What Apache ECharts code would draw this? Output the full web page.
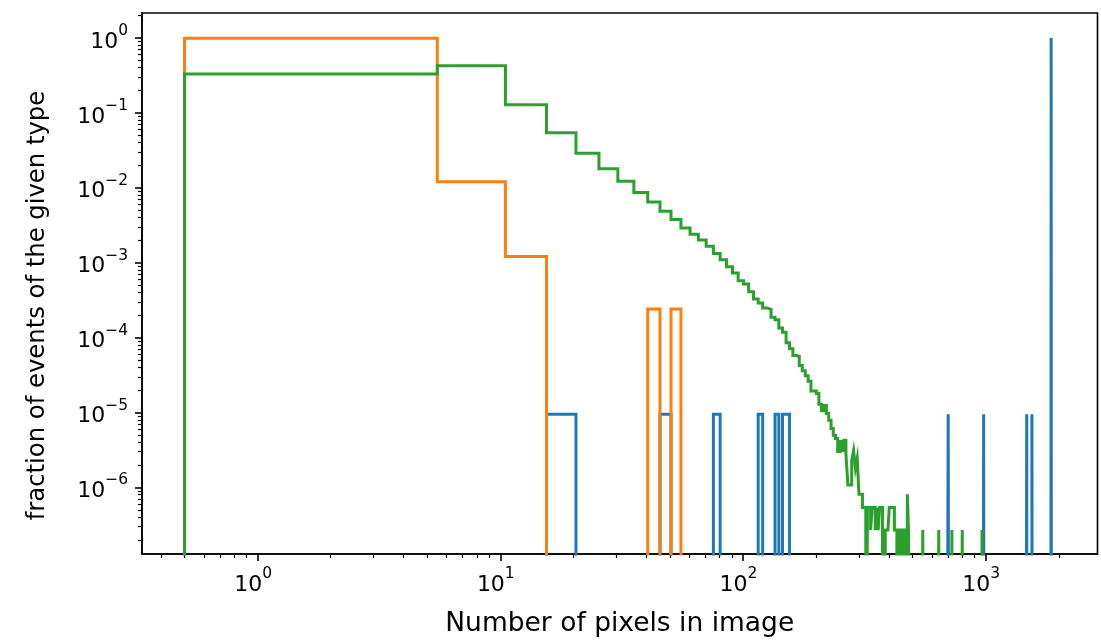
<!DOCTYPE html>
<html>
<head>
<meta charset="utf-8">
<script src="https://cdn.jsdelivr.net/npm/echarts@6/dist/echarts.min.js"></script>
<style>
html,body{margin:0;padding:0;background:#fff;}
#chart{width:1101px;height:643px;}
</style>
</head>
<body>
<div id="chart"></div>
<script>
// ---- data ----
const binStart = 0.5;
const binWidth = 5;
const binCount = 380;

const xTickValues = [1, 10, 100, 1000];
const yTickValues = [1, 1e-1, 1e-2, 1e-3, 1e-4, 1e-5, 1e-6];

const xTitle = 'Number of pixels in image';
const yTitle = 'fraction of events of the given type';

// blue series: sparse (bin index -> fraction)
const blueBins = [3, 9, 15, 23, 27, 29, 30, 140, 196, 295, 310, 372];
const blueValues = [9.49e-6, 9.49e-6, 9.49e-6, 9.49e-6, 9.49e-6, 9.49e-6, 9.49e-6, 9.49e-6, 9.49e-6, 9.49e-6, 9.49e-6, 0.999896];

// orange series: sparse
const orangeBins = [0, 1, 2, 8, 10];
const orangeValues = [0.9863, 0.01205, 0.001205, 0.000241, 0.000241];

// green series: bins 0..96 dense, then a few isolated bins
const greenValues = [
  0.329, 0.425, 0.1285, 0.0541, 0.0289, 0.01795, 0.01217, 0.00861, 0.00646, 0.00486,
  0.00376, 0.00291, 0.00240, 0.00200, 0.00165, 0.00133, 0.00109, 0.000881, 0.000727, 0.000574,
  0.000519, 0.000410, 0.000328, 0.000290, 0.000249, 0.000238, 0.000187, 0.000173, 0.000134, 0.000118,
  8.53e-5, 7.1e-5, 5.78e-5, 5.64e-5, 4.25e-5, 3.62e-5, 3.1e-5, 2.61e-5, 1.94e-5, 1.94e-5,
  1.79e-5, 1.29e-5, 1.06e-5, 1.24e-5, 9.7e-6, 7.9e-6, 6.1e-6, 4.99e-6, 4.5e-6, 3.03e-6,
  4.11e-6, 3.12e-6, 4.28e-6, 2.76e-6, 1.08e-6, 1.08e-6, 2.30e-6, 3.12e-6, 1.80e-6, 2.44e-6,
  8.1e-7, 8.1e-7, 5.4e-7, 5.4e-7, 0, 5.4e-7, 5.4e-7, 2.7e-7, 5.4e-7, 5.4e-7,
  2.7e-7, 5.4e-7, 2.7e-7, 5.4e-7, 5.4e-7, 0, 0, 2.7e-7, 2.7e-7, 2.7e-7,
  5.4e-7, 5.4e-7, 5.4e-7, 5.4e-7, 2.7e-7, 2.7e-7, 0, 2.7e-7, 2.7e-7, 2.7e-7,
  0, 2.7e-7, 2.7e-7, 2.7e-7, 0, 8.1e-7, 2.7e-7
];
const greenExtraBins = [110, 128, 145, 160, 193];
const greenExtraValues = [2.7e-7, 2.7e-7, 2.7e-7, 2.7e-7, 2.7e-7];

// ---- helpers ----
const FLOOR = 1e-12; // stands in for zero on a log axis (clipped away)
function edge(i) { return binStart + binWidth * i; }
function dense(bins, vals, base) {
  const out = base ? base.slice() : [];
  while (out.length < binCount) out.push(0);
  bins.forEach((b, j) => { out[b] = vals[j]; });
  return out;
}
function stepPoints(vals) {
  const pts = [[edge(0), FLOOR]];
  for (let i = 0; i < vals.length; i++) {
    const v = vals[i] > 0 ? vals[i] : FLOOR;
    pts.push([edge(i), v]);
    pts.push([edge(i + 1), v]);
  }
  pts.push([edge(vals.length), FLOOR]);
  return pts;
}
function minorsFor(lo, hi) {
  const out = [];
  for (let e = -9; e <= 4; e++) {
    for (let m = 2; m <= 9; m++) {
      const v = m * Math.pow(10, e);
      if (v > lo && v < hi) out.push(v);
    }
  }
  return out;
}

const xMin = Math.pow(10, -0.4763), xMax = Math.pow(10, 3.4606);
const yMin = Math.pow(10, -6.888), yMax = Math.pow(10, 0.332);

function powLabel(v) {
  const e = Math.round(Math.log10(v));
  const s = e < 0 ? '\u2212' + (-e) : String(e);
  return '{b|10}{s|' + s + '}';
}
const FONT = 'DejaVu Sans';
const rich = {
  b: { fontFamily: FONT, fontSize: 22, color: '#000', lineHeight: 30, verticalAlign: 'bottom' },
  s: { fontFamily: FONT, fontSize: 15.5, color: '#000', lineHeight: 30, verticalAlign: 'top' }
};

const chart = echarts.init(document.getElementById('chart'), null, { renderer: 'canvas' });

const series = [
  { name: 'blue', color: '#1f77b4', vals: dense(blueBins, blueValues) },
  { name: 'orange', color: '#ff7f0e', vals: dense(orangeBins, orangeValues) },
  { name: 'green', color: '#2ca02c', vals: dense(greenExtraBins, greenExtraValues, greenValues) }
].map(s => ({
  type: 'line',
  name: s.name,
  xAxisIndex: 0,
  yAxisIndex: 0,
  data: stepPoints(s.vals),
  showSymbol: false,
  symbol: 'none',
  clip: true,
  lineStyle: { color: s.color, width: 3, join: 'miter' },
  itemStyle: { color: s.color },
  emphasis: { disabled: true },
  animation: false
}));

const axisLineStyle = { color: '#000', width: 1.6 };

chart.setOption({
  backgroundColor: '#fff',
  animation: false,
  grid: {
    left: 142, right: 3.5, top: 13, bottom: 87,
    show: true, borderColor: '#000', borderWidth: 1.6, backgroundColor: 'transparent'
  },
  xAxis: [
    {
      type: 'log', logBase: 10, min: xMin, max: xMax, position: 'bottom',
      axisLine: { show: true, onZero: false, lineStyle: axisLineStyle },
      axisTick: { show: true, customValues: xTickValues, length: 7, lineStyle: { color: '#000', width: 1.6 } },
      axisLabel: { show: true, customValues: xTickValues, formatter: powLabel, rich: rich, margin: 12, padding: [0, 9, 0, 0] },
      splitLine: { show: false },
      minorTick: { show: false },
      name: xTitle, nameLocation: 'middle', nameGap: 57,
      nameTextStyle: { fontFamily: FONT, fontSize: 26.5, color: '#000' }
    },
    {
      type: 'log', logBase: 10, min: xMin, max: xMax, position: 'bottom',
      axisLine: { show: false, onZero: false },
      axisTick: { show: true, customValues: minorsFor(xMin, xMax), length: 4, lineStyle: { color: '#000', width: 1.2 } },
      axisLabel: { show: false },
      splitLine: { show: false }
    }
  ],
  yAxis: [
    {
      type: 'log', logBase: 10, min: yMin, max: yMax, position: 'left',
      axisLine: { show: true, onZero: false, lineStyle: axisLineStyle },
      axisTick: { show: true, customValues: yTickValues, length: 7, lineStyle: { color: '#000', width: 1.6 } },
      axisLabel: { show: true, customValues: yTickValues, formatter: powLabel, rich: rich, margin: 14 },
      splitLine: { show: false },
      name: yTitle, nameLocation: 'middle', nameGap: 92, nameRotate: 90,
      nameTextStyle: { fontFamily: FONT, fontSize: 24.3, color: '#000', padding: [0, 44, 0, 0] }
    },
    {
      type: 'log', logBase: 10, min: yMin, max: yMax, position: 'left',
      axisLine: { show: false, onZero: false },
      axisTick: { show: true, customValues: minorsFor(yMin, yMax), length: 4, lineStyle: { color: '#000', width: 1.2 } },
      axisLabel: { show: false },
      splitLine: { show: false }
    }
  ],
  series: series
});
</script>
</body>
</html>
